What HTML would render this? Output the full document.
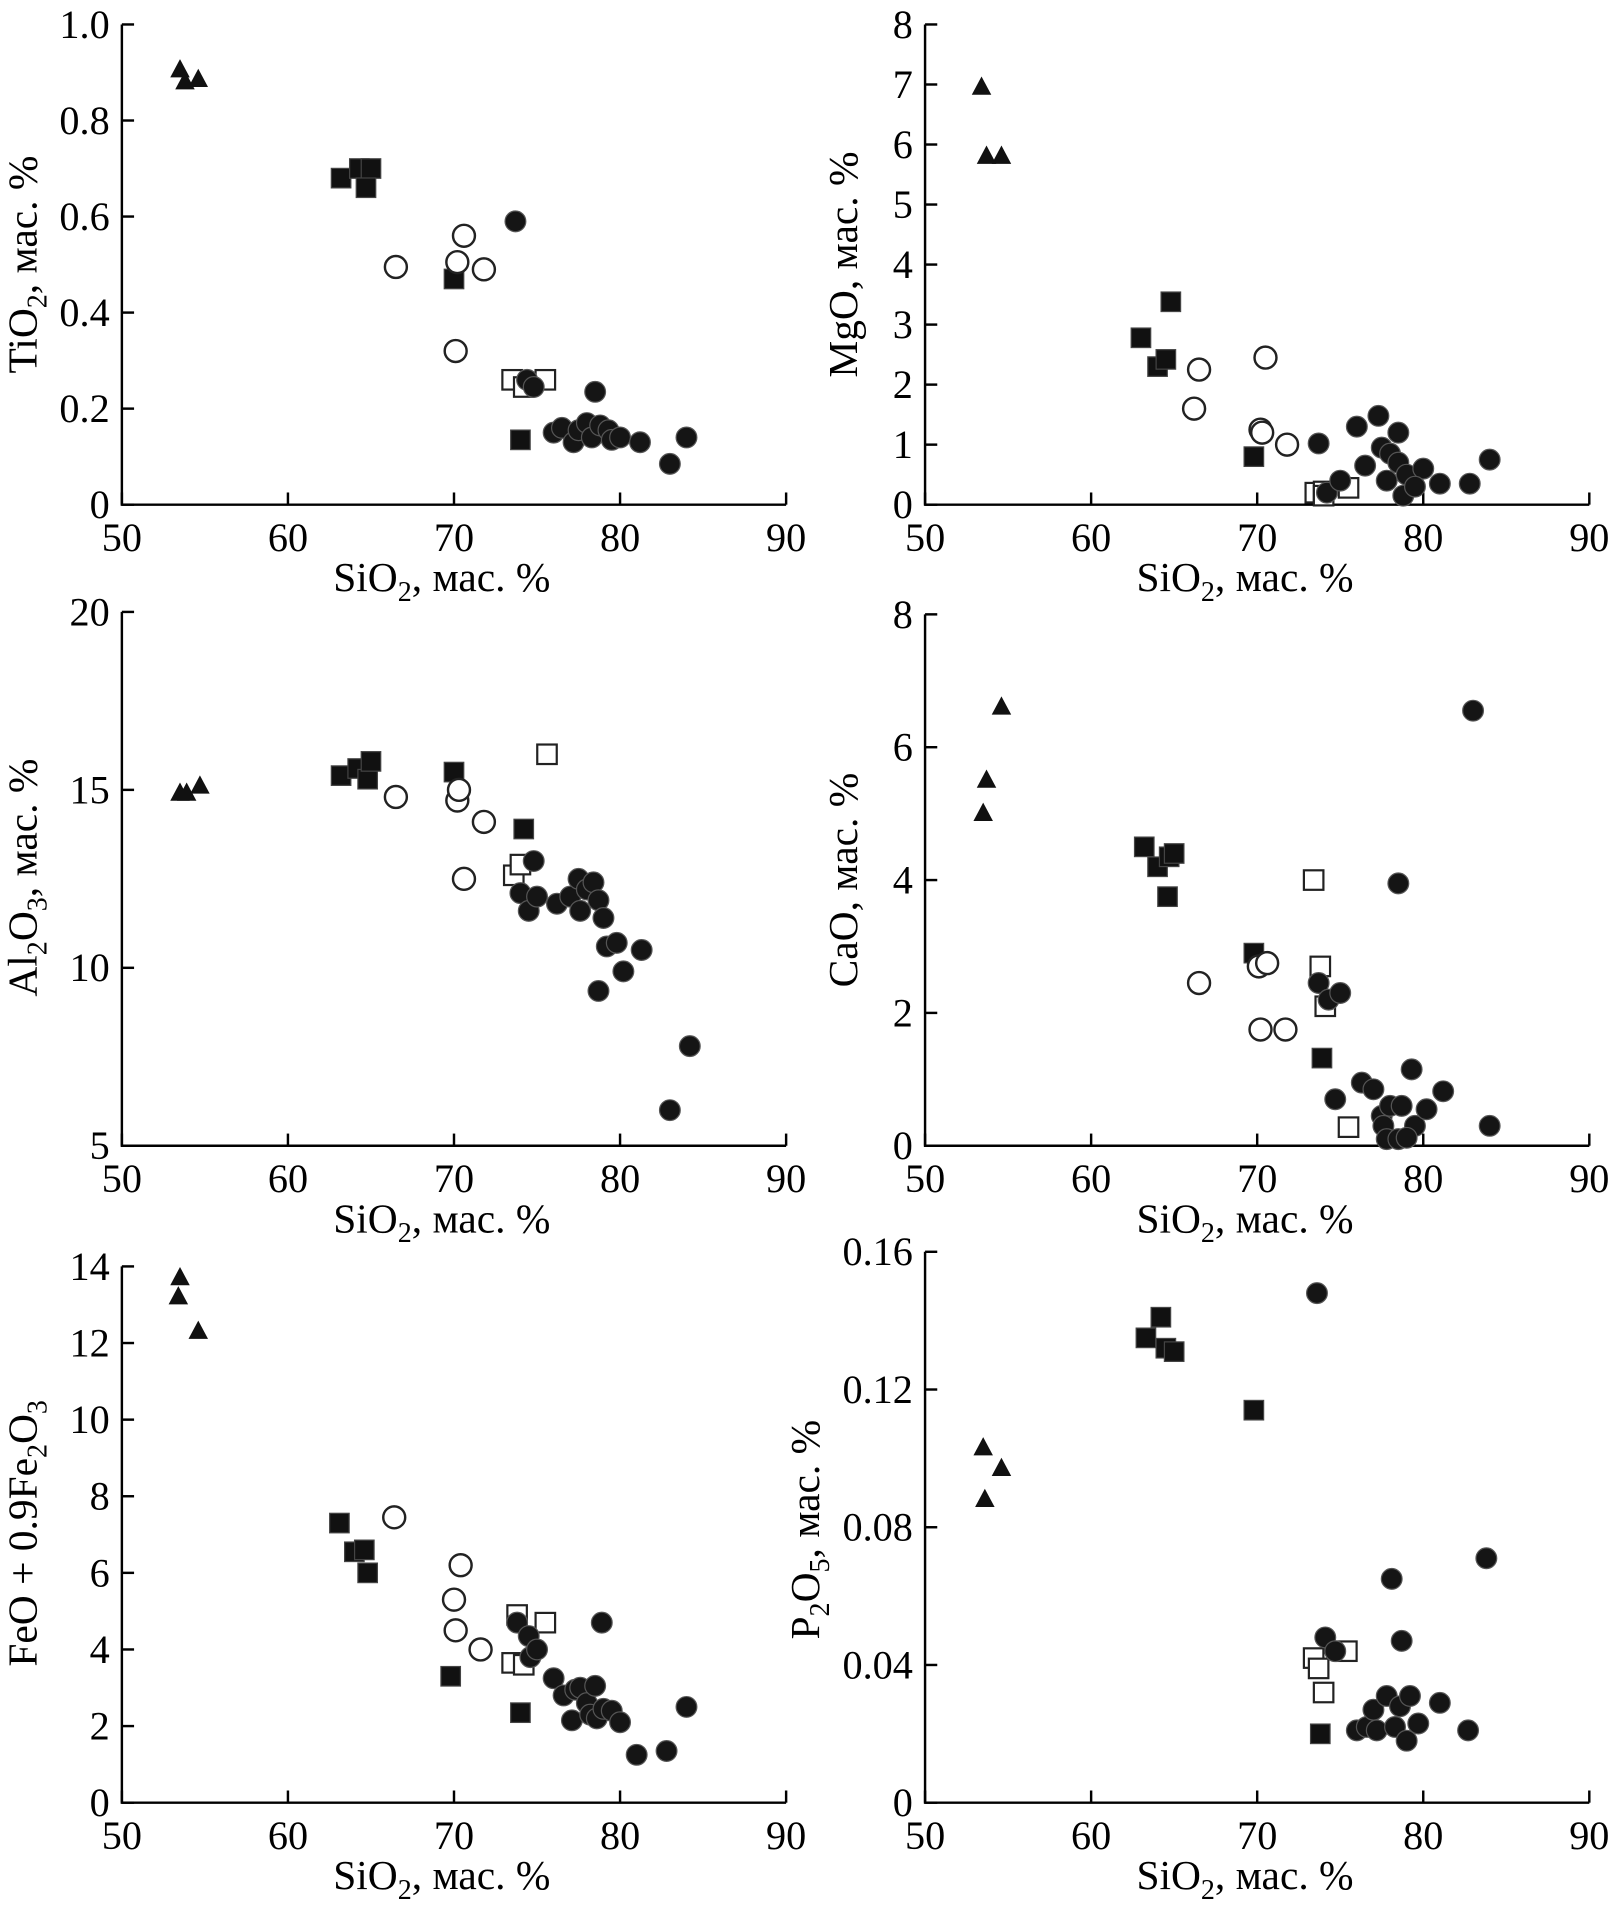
<!DOCTYPE html>
<html><head><meta charset="utf-8"><style>
html,body{margin:0;padding:0;background:#fff;}
svg{display:block;font-family:"Liberation Serif",serif;}
</style></head><body>
<svg id="fig" width="1621" height="1921" viewBox="0 0 1330 1576" xmlns="http://www.w3.org/2000/svg"></svg>
<script>
// ---- data (SiO2 x, oxide y) ----
const tiTriX=[53.5,53.8,54.6], tiTriY=[0.905,0.88,0.885];
const tiSqX=[63.2,64.3,65,64.7,70,74], tiSqY=[0.68,0.70,0.70,0.66,0.47,0.135];
const tiHexX=[66.5,70.6,70.2,71.8,70.1], tiHexY=[0.495,0.56,0.505,0.49,0.32];
const tiOsqX=[73.5,74.2,75.5], tiOsqY=[0.26,0.245,0.26];
const tiCirX=[73.7,78.5,74.4,74.8,76,76.5,77.2,77.5,78,78.3,78.8,79.3,79.5,80,81.2,83,84], tiCirY=[0.59,0.235,0.26,0.245,0.15,0.16,0.13,0.155,0.17,0.14,0.165,0.155,0.135,0.14,0.13,0.085,0.14];

const mgTriX=[53.4,53.7,54.6], mgTriY=[6.95,5.8,5.8];
const mgSqX=[63,64.8,64,64.5,69.8], mgSqY=[2.78,3.38,2.3,2.42,0.8];
const mgHexX=[66.5,66.2,70.2,70.3,70.5,71.8], mgHexY=[2.25,1.6,1.25,1.2,2.45,1.0];
const mgOsqX=[73.5,74,75.5,74], mgOsqY=[0.2,0.22,0.28,0.15];
const mgCirX=[73.7,74.2,75,76,77.3,76.5,77.5,77.8,78,78.5,78.5,79,78.8,80,79.5,81,82.8,84], mgCirY=[1.02,0.2,0.4,1.3,1.48,0.65,0.95,0.4,0.85,1.2,0.7,0.5,0.15,0.6,0.3,0.35,0.35,0.75];

const alTriX=[53.5,53.9,54.7], alTriY=[14.9,14.9,15.1];
const alSqX=[63.2,64.2,64.8,65,70,74.2], alSqY=[15.4,15.6,15.3,15.8,15.5,13.9];
const alHexX=[66.5,70.2,70.3,70.6,71.8], alHexY=[14.8,14.7,15.0,12.5,14.1];
const alOsqX=[73.6,74,75.6], alOsqY=[12.6,12.9,16.0];
const alCirX=[74.8,74,74.5,75,76.2,77,77.5,77.6,78,78.4,78.7,79,79.2,79.8,80.2,81.3,78.7,83,84.2], alCirY=[13.0,12.1,11.6,12.0,11.8,12.0,12.5,11.6,12.2,12.4,11.9,11.4,10.6,10.7,9.9,10.5,9.35,6.0,7.8];

const caTriX=[53.5,53.7,54.6], caTriY=[5.0,5.5,6.6];
const caSqX=[63.2,64,64.7,65,64.6,69.8,73.9], caSqY=[4.5,4.2,4.35,4.4,3.75,2.9,1.32];
const caHexX=[66.5,70.1,70.6,70.2,71.7], caHexY=[2.45,2.7,2.75,1.75,1.75];
const caOsqX=[73.4,73.8,74.1,75.5], caOsqY=[4.0,2.7,2.1,0.28];
const caCirX=[83,78.5,73.7,74.3,75,74.7,76.3,77,77.5,77.6,77.8,78,78.5,78.7,79.3,79.5,80.2,81.2,79,84], caCirY=[6.55,3.95,2.45,2.2,2.3,0.7,0.95,0.85,0.45,0.3,0.1,0.6,0.1,0.6,1.15,0.3,0.55,0.82,0.12,0.3];

const feTriX=[53.5,53.4,54.6], feTriY=[13.7,13.2,12.3];
const feSqX=[63.1,64,64.6,64.8,69.8,74], feSqY=[7.3,6.55,6.6,6.0,3.3,2.35];
const feHexX=[66.4,70.4,70,70.1,71.6], feHexY=[7.45,6.2,5.3,4.5,4.0];
const feOsqX=[73.5,73.8,74.2,75.5], feOsqY=[3.65,4.9,3.6,4.7];
const feCirX=[73.8,74.5,74.6,75,76,76.6,77.1,77.3,77.6,78,78.2,78.5,78.6,79,78.9,79.5,80,81,82.8,84], feCirY=[4.7,4.35,3.8,4.0,3.25,2.8,2.15,2.95,3.0,2.6,2.3,3.05,2.2,2.45,4.7,2.4,2.1,1.25,1.35,2.5];

const pTriX=[53.5,53.6,54.6], pTriY=[0.103,0.088,0.097];
const pSqX=[63.3,64.2,64.5,65,69.8,73.8], pSqY=[0.135,0.141,0.132,0.131,0.114,0.02];
const pHexX=[], pHexY=[];
const pOsqX=[73.4,73.7,74,75.4], pOsqY=[0.042,0.039,0.032,0.044];
const pCirX=[73.6,74.1,74.7,76,76.6,77,77.2,77.8,78.1,78.3,78.6,78.7,79,79.2,79.7,81,82.7,83.8], pCirY=[0.148,0.048,0.044,0.021,0.022,0.027,0.021,0.031,0.065,0.022,0.028,0.047,0.018,0.031,0.023,0.029,0.021,0.071];

const xTicks=[50,60,70,80,90];
const tiTicks=[0,0.2,0.4,0.6,0.8,1.0], tiLabels=["0","0.2","0.4","0.6","0.8","1.0"];
const mgTicks=[0,1,2,3,4,5,6,7,8], mgLabels=["0","1","2","3","4","5","6","7","8"];
const alTicks=[5,10,15,20], alLabels=["5","10","15","20"];
const caTicks=[0,2,4,6,8], caLabels=["0","2","4","6","8"];
const feTicks=[0,2,4,6,8,10,12,14], feLabels=["0","2","4","6","8","10","12","14"];
const pTicks=[0,0.04,0.08,0.12,0.16], pLabels=["0","0.04","0.08","0.12","0.16"];

const NS="http://www.w3.org/2000/svg";
const svg=document.getElementById('fig');
function mk(tag,attrs,parent){const e=document.createElementNS(NS,tag);for(const k in attrs)e.setAttribute(k,attrs[k]);(parent||svg).appendChild(e);return e;}

function panel(name,x0,x1,y0,y1,ymin,ymax,ticks,labels,title,titleX,titleY,groups){
  const g=mk('g',{});
  
  
  const sx=v=>x0+(v-50)/40*(x1-x0);
  const sy=v=>y0-(v-ymin)/(ymax-ymin)*(y0-y1);
  const ax=mk('path',{d:`M${x0},${y1} V${y0} H${x1}`,fill:'none',stroke:'#000','stroke-width':2},g);
  
  
  xTicks.forEach(t=>{
    mk('line',{x1:sx(t),x2:sx(t),y1:y0,y2:y0-10,stroke:'#000','stroke-width':2},g);
    const tx=mk('text',{x:sx(t),y:y0+38,'font-size':33,'text-anchor':'middle'},g);
    tx.textContent=String(t);
    
    
  });
  ticks.forEach((t,i)=>{
    mk('line',{x1:x0,x2:x0+10,y1:sy(t),y2:sy(t),stroke:'#000','stroke-width':2},g);
    const tx=mk('text',{x:x0-10,y:sy(t)+11,'font-size':33,'text-anchor':'end'},g);
    tx.textContent=labels[i];
    
    
  });
  const xt=mk('text',{x:(x0+x1)/2-10,y:y0+71,'font-size':34,'text-anchor':'middle'},g);
  xt.innerHTML='SiO<tspan font-size="23" dy="8">2</tspan><tspan dy="-8">, мас. %</tspan>';
  
  
  const yt=mk('text',{x:0,y:0,'font-size':34,'text-anchor':'middle',transform:`translate(${titleX},${titleY}) rotate(-90)`},g);
  yt.innerHTML=title;
  
  
  const [tX,tY,sX,sY,hX,hY,oX,oY,cX,cY]=groups;
  tX.forEach((v,i)=>{const x=sx(v),y=sy(tY[i]);
    const m=mk('path',{d:`M${x},${y-9} L${x+8},${y+6} L${x-8},${y+6}Z`,fill:'#111'},g);
    
    });
  sX.forEach((v,i)=>{const x=sx(v),y=sy(sY[i]);
    const m=mk('rect',{x:x-8,y:y-8,width:16,height:16,fill:'#111',stroke:'#444','stroke-width':1},g);
    
    });
  hX.forEach((v,i)=>{const x=sx(v),y=sy(hY[i]);
    const m=mk('circle',{cx:x,cy:y,r:9,fill:'#fff',stroke:'#222','stroke-width':2},g);
    
    });
  oX.forEach((v,i)=>{const x=sx(v),y=sy(oY[i]);
    const m=mk('rect',{x:x-8,y:y-8,width:16,height:16,fill:'#fff',stroke:'#222','stroke-width':1.8},g);
    
    });
  cX.forEach((v,i)=>{const x=sx(v),y=sy(cY[i]);
    const m=mk('circle',{cx:x,cy:y,r:8.5,fill:'#151515',stroke:'#555','stroke-width':1},g);
    
    });
}
const sub=s=>`<tspan font-size="23" dy="8">${s}</tspan><tspan dy="-8">`;
panel('tio2',100,645,414,20,0,1.0,tiTicks,tiLabels,`TiO${sub(2)}, мас. %</tspan>`,30,217,
  [tiTriX,tiTriY,tiSqX,tiSqY,tiHexX,tiHexY,tiOsqX,tiOsqY,tiCirX,tiCirY]);
panel('mgo',759,1304,414,20,0,8,mgTicks,mgLabels,`MgO, мас. %`,703,217,
  [mgTriX,mgTriY,mgSqX,mgSqY,mgHexX,mgHexY,mgOsqX,mgOsqY,mgCirX,mgCirY]);
panel('al2o3',100,645,940,502,5,20,alTicks,alLabels,`Al${sub(2)}O</tspan>${sub(3)}, мас. %</tspan>`,30,720,
  [alTriX,alTriY,alSqX,alSqY,alHexX,alHexY,alOsqX,alOsqY,alCirX,alCirY]);
panel('cao',759,1304,940,504,0,8,caTicks,caLabels,`CaO, мас. %`,703,722,
  [caTriX,caTriY,caSqX,caSqY,caHexX,caHexY,caOsqX,caOsqY,caCirX,caCirY]);
panel('feo',100,645,1479,1039,0,14,feTicks,feLabels,`FeO + 0.9Fe${sub(2)}O</tspan>${sub(3)}</tspan>`,30,1258,
  [feTriX,feTriY,feSqX,feSqY,feHexX,feHexY,feOsqX,feOsqY,feCirX,feCirY]);
panel('p2o5',759,1304,1479,1027,0,0.16,pTicks,pLabels,`P${sub(2)}O</tspan>${sub(5)}, мас. %</tspan>`,672,1255,
  [pTriX,pTriY,pSqX,pSqY,pHexX,pHexY,pOsqX,pOsqY,pCirX,pCirY]);
</script>
</body></html>
